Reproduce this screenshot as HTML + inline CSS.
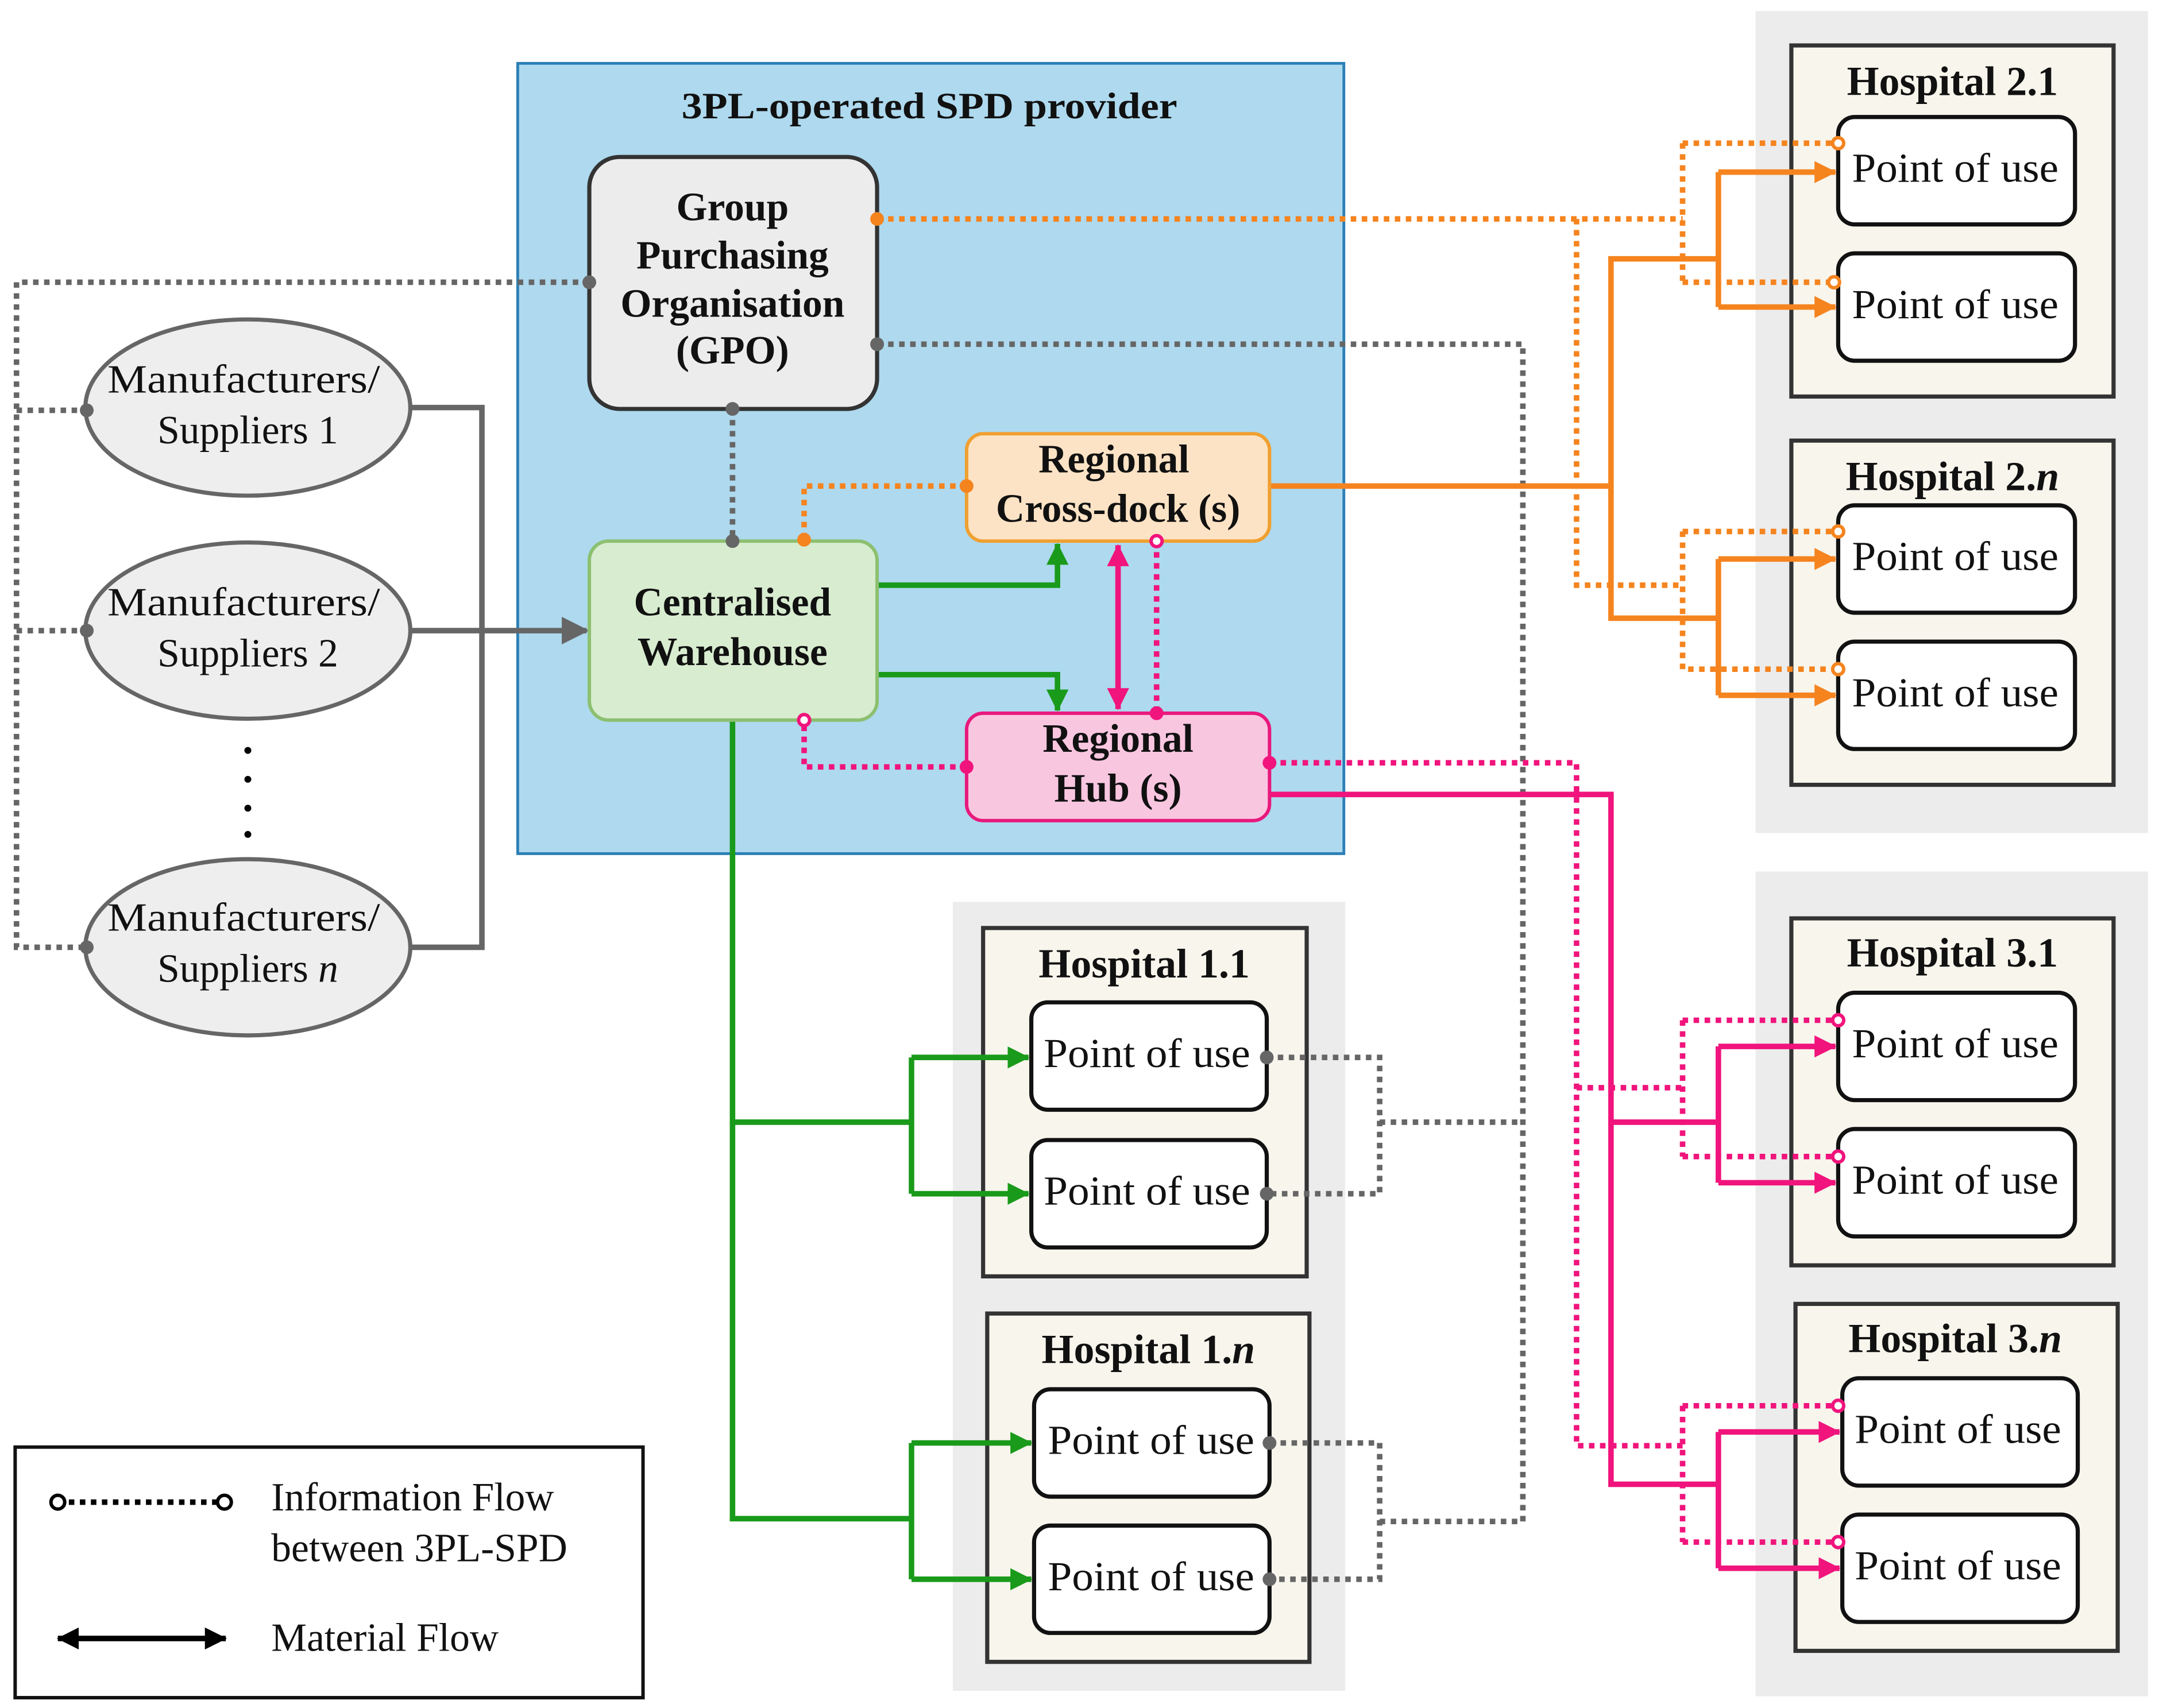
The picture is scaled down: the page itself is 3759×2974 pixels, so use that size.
<!DOCTYPE html>
<html><head><meta charset="utf-8"><style>
html,body{margin:0;padding:0;background:#fff;}
svg{display:block;}
text{font-family:"Liberation Serif",serif;fill:#111;}
.b{font-weight:bold;}
</style></head><body>
<svg width="3759" height="2974" viewBox="0 0 1568 1240.5" preserveAspectRatio="none" xmlns="http://www.w3.org/2000/svg">
<defs>
<marker id="ag" markerWidth="5" markerHeight="5" refX="4.5" refY="2.5" orient="auto" markerUnits="strokeWidth"><path d="M0,0 L5,2.5 L0,5 z" fill="#666"/></marker>
<marker id="ao" markerWidth="4" markerHeight="4" refX="3.8" refY="2" orient="auto" markerUnits="strokeWidth"><path d="M0,0 L4,2 L0,4 z" fill="#f5841f"/></marker>
<marker id="agr" markerWidth="4" markerHeight="4" refX="3.8" refY="2" orient="auto" markerUnits="strokeWidth"><path d="M0,0 L4,2 L0,4 z" fill="#1a9a1a"/></marker>
<marker id="ap" markerWidth="4" markerHeight="4" refX="3.8" refY="2" orient="auto" markerUnits="strokeWidth"><path d="M0,0 L4,2 L0,4 z" fill="#f0147c"/></marker>
<marker id="apb" markerWidth="4" markerHeight="4" refX="3.8" refY="2" orient="auto-start-reverse" markerUnits="strokeWidth"><path d="M0,0 L4,2 L0,4 z" fill="#f0147c"/></marker>
<marker id="ak" markerWidth="4" markerHeight="4" refX="3.8" refY="2" orient="auto-start-reverse" markerUnits="strokeWidth"><path d="M0,0 L4,2 L0,4 z" fill="#000"/></marker>
</defs>

<!-- gray panels -->
<rect x="1275" y="8" width="285" height="597" fill="#ececec"/>
<rect x="1275" y="633" width="285" height="599" fill="#ececec"/>
<rect x="692" y="655" width="285" height="573" fill="#ececec"/>

<!-- blue provider -->
<rect x="376" y="46" width="600" height="574" fill="#aed9ee" stroke="#2a7fb5" stroke-width="2"/>
<text x="675" y="86" font-size="27" class="b" text-anchor="middle" textLength="360" lengthAdjust="spacingAndGlyphs">3PL-operated SPD provider</text>

<!-- hospital frames -->
<g fill="#f7f5ec" stroke="#333" stroke-width="3">
<rect x="1301" y="33" width="234" height="255"/>
<rect x="1301" y="320" width="234" height="250"/>
<rect x="1301" y="667" width="234" height="252"/>
<rect x="1304" y="947" width="234" height="252"/>
<rect x="714" y="674" width="235" height="253"/>
<rect x="717" y="954" width="234" height="253"/>
</g>

<!-- lines: gray -->
<g fill="none" stroke="#666" stroke-width="4" stroke-dasharray="4,4">
<path d="M428,205 H12 V688 H63"/>
<path d="M12,298 H63 M12,458 H63"/>
<path d="M532,297 V393"/>
<path d="M637,250 H1106 V1105 H1002"/>
<path d="M1002,815 H1106"/>
<path d="M920,768 H1002 V867 H920"/>
<path d="M922,1048 H1002 V1147 H922"/>
</g>
<g fill="none" stroke="#666" stroke-width="4">
<path d="M297,296 H350 V688 H297"/>
<path d="M297,458 H426" marker-end="url(#ag)"/>
</g>
<!-- orange -->
<g fill="none" stroke="#f5841f" stroke-width="4" stroke-dasharray="4,4">
<path d="M637,159 H1222"/>
<path d="M1222,104 V205 M1222,104 H1335 M1222,205 H1332"/>
<path d="M1145,159 V425 H1222 V486 H1335 M1222,386 H1335 M1222,386 V425"/>
<path d="M702,353 H584 V392"/>
</g>
<g fill="none" stroke="#f5841f" stroke-width="4">
<path d="M922,353 H1170 V449 H1248 M1170,353 V188 H1248"/>
<path d="M1248,125 V223"/>
<path d="M1248,125 H1333" marker-end="url(#ao)"/>
<path d="M1248,223 H1333" marker-end="url(#ao)"/>
<path d="M1248,406 V505"/>
<path d="M1248,406 H1333" marker-end="url(#ao)"/>
<path d="M1248,505 H1333" marker-end="url(#ao)"/>
</g>
<!-- green -->
<g fill="none" stroke="#1a9a1a" stroke-width="4">
<path d="M637,425 H768 V395" marker-end="url(#agr)"/>
<path d="M637,490 H768 V516" marker-end="url(#agr)"/>
<path d="M532,523 V1103 H662 M532,815 H662"/>
<path d="M662,768 V867 M662,1048 V1147"/>
<path d="M662,768 H747" marker-end="url(#agr)"/>
<path d="M662,867 H747" marker-end="url(#agr)"/>
<path d="M662,1048 H749" marker-end="url(#agr)"/>
<path d="M662,1147 H749" marker-end="url(#agr)"/>
</g>
<!-- pink -->
<g fill="none" stroke="#f0147c" stroke-width="4" stroke-dasharray="4,4">
<path d="M840,393 V518"/>
<path d="M702,557 H584 V523"/>
<path d="M922,554 H1145 V1050 H1222 M1145,790 H1222"/>
<path d="M1222,741 V840 M1222,741 H1335 M1222,840 H1335"/>
<path d="M1222,1021 V1120 M1222,1021 H1335 M1222,1120 H1335"/>
</g>
<g fill="none" stroke="#f0147c" stroke-width="4">
<path d="M812,396 V515" marker-start="url(#apb)" marker-end="url(#apb)"/>
<path d="M922,577 H1170 V1078 H1248 M1170,815 H1248"/>
<path d="M1248,760 V859 M1248,1040 V1139"/>
<path d="M1248,760 H1333" marker-end="url(#ap)"/>
<path d="M1248,859 H1333" marker-end="url(#ap)"/>
<path d="M1248,1040 H1336" marker-end="url(#ap)"/>
<path d="M1248,1139 H1336" marker-end="url(#ap)"/>
</g>

<!-- nodes -->
<rect x="428" y="114" width="209" height="183" rx="22" fill="#ececec" stroke="#333" stroke-width="3"/>
<g font-size="29" class="b" text-anchor="middle">
<text x="532" y="160">Group</text><text x="532" y="195">Purchasing</text><text x="532" y="230">Organisation</text><text x="532" y="264">(GPO)</text>
</g>
<rect x="702" y="315" width="220" height="78" rx="12" fill="#fde3c5" stroke="#f0a030" stroke-width="2.5"/>
<g font-size="29" class="b" text-anchor="middle"><text x="809" y="343">Regional</text><text x="812" y="379">Cross-dock (s)</text></g>
<rect x="428" y="393" width="209" height="130" rx="14" fill="#d8ecd0" stroke="#8cc070" stroke-width="2.5"/>
<g font-size="29" class="b" text-anchor="middle"><text x="532" y="447">Centralised</text><text x="532" y="483">Warehouse</text></g>
<rect x="702" y="518" width="220" height="78" rx="12" fill="#f9c6e0" stroke="#e8197d" stroke-width="2.5"/>
<g font-size="29" class="b" text-anchor="middle"><text x="812" y="546">Regional</text><text x="812" y="582">Hub (s)</text></g>

<g fill="#eee" stroke="#666" stroke-width="3">
<ellipse cx="180" cy="296" rx="118" ry="64"/>
<ellipse cx="180" cy="458" rx="118" ry="64"/>
<ellipse cx="180" cy="688" rx="118" ry="64"/>
</g>
<g font-size="29" text-anchor="middle" fill="#333">
<text x="177" y="285" textLength="198" lengthAdjust="spacingAndGlyphs">Manufacturers/</text><text x="180" y="322">Suppliers 1</text>
<text x="177" y="447" textLength="198" lengthAdjust="spacingAndGlyphs">Manufacturers/</text><text x="180" y="484">Suppliers 2</text>
<text x="177" y="676" textLength="198" lengthAdjust="spacingAndGlyphs">Manufacturers/</text><text x="180" y="713">Suppliers <tspan font-style="italic">n</tspan></text>
</g>
<g fill="#000"><circle cx="180" cy="545" r="2.5"/><circle cx="180" cy="566" r="2.5"/><circle cx="180" cy="587" r="2.5"/><circle cx="180" cy="606" r="2.5"/></g>

<!-- POU boxes -->
<g fill="#fff" stroke="#111" stroke-width="3">
<rect x="1335" y="85" width="172" height="78" rx="12"/>
<rect x="1335" y="184" width="172" height="78" rx="12"/>
<rect x="1335" y="367" width="172" height="78" rx="12"/>
<rect x="1335" y="466" width="172" height="78" rx="12"/>
<rect x="1335" y="721" width="172" height="78" rx="12"/>
<rect x="1335" y="820" width="172" height="78" rx="12"/>
<rect x="1338" y="1001" width="171" height="78" rx="12"/>
<rect x="1338" y="1100" width="171" height="78" rx="12"/>
<rect x="749" y="728" width="171" height="78" rx="12"/>
<rect x="749" y="828" width="171" height="78" rx="12"/>
<rect x="751" y="1009" width="171" height="78" rx="12"/>
<rect x="751" y="1108" width="171" height="78" rx="12"/>
</g>
<g font-size="30" class="b" text-anchor="middle">
<text x="1418" y="69">Hospital 2.1</text>
<text x="1418" y="356">Hospital 2.<tspan font-style="italic">n</tspan></text>
<text x="1418" y="702">Hospital 3.1</text>
<text x="1420" y="982">Hospital 3.<tspan font-style="italic">n</tspan></text>
<text x="831" y="710">Hospital 1.1</text>
<text x="834" y="990">Hospital 1.<tspan font-style="italic">n</tspan></text>
</g>
<g font-size="30" text-anchor="middle">
<text x="1420" y="132" textLength="150" lengthAdjust="spacingAndGlyphs">Point of use</text>
<text x="1420" y="231" textLength="150" lengthAdjust="spacingAndGlyphs">Point of use</text>
<text x="1420" y="414" textLength="150" lengthAdjust="spacingAndGlyphs">Point of use</text>
<text x="1420" y="513" textLength="150" lengthAdjust="spacingAndGlyphs">Point of use</text>
<text x="1420" y="768" textLength="150" lengthAdjust="spacingAndGlyphs">Point of use</text>
<text x="1420" y="867" textLength="150" lengthAdjust="spacingAndGlyphs">Point of use</text>
<text x="1422" y="1048" textLength="150" lengthAdjust="spacingAndGlyphs">Point of use</text>
<text x="1422" y="1147" textLength="150" lengthAdjust="spacingAndGlyphs">Point of use</text>
<text x="833" y="775" textLength="150" lengthAdjust="spacingAndGlyphs">Point of use</text>
<text x="833" y="875" textLength="150" lengthAdjust="spacingAndGlyphs">Point of use</text>
<text x="836" y="1056" textLength="150" lengthAdjust="spacingAndGlyphs">Point of use</text>
<text x="836" y="1155" textLength="150" lengthAdjust="spacingAndGlyphs">Point of use</text>
</g>

<!-- dots -->
<g fill="#666">
<circle cx="428" cy="205" r="5"/><circle cx="63" cy="298" r="5"/><circle cx="63" cy="458" r="5"/><circle cx="63" cy="688" r="5"/>
<circle cx="532" cy="297" r="5"/><circle cx="532" cy="393" r="5"/><circle cx="637" cy="250" r="5"/>
<circle cx="920" cy="768" r="5"/><circle cx="920" cy="867" r="5"/><circle cx="922" cy="1048" r="5"/><circle cx="922" cy="1147" r="5"/>
</g>
<g fill="#f5841f"><circle cx="637" cy="159" r="5"/><circle cx="702" cy="353" r="5"/><circle cx="584" cy="392" r="5"/></g>
<g fill="#fff" stroke="#f5841f" stroke-width="2.5"><circle cx="1335" cy="104" r="4"/><circle cx="1332" cy="205" r="4"/><circle cx="1335" cy="386" r="4"/><circle cx="1335" cy="486" r="4"/></g>
<g fill="#f0147c"><circle cx="840" cy="518" r="5"/><circle cx="702" cy="557" r="5"/><circle cx="922" cy="554" r="5"/></g>
<g fill="#fff" stroke="#f0147c" stroke-width="2.5"><circle cx="840" cy="393" r="4"/><circle cx="584" cy="523" r="4"/><circle cx="1335" cy="741" r="4"/><circle cx="1335" cy="840" r="4"/><circle cx="1335" cy="1021" r="4"/><circle cx="1335" cy="1120" r="4"/></g>

<!-- legend -->
<rect x="11" y="1051" width="456" height="182" fill="#fff" stroke="#111" stroke-width="2.5"/>
<line x1="42" y1="1091" x2="163" y2="1091" stroke="#000" stroke-width="4" stroke-dasharray="4,4"/>
<circle cx="42" cy="1091" r="5" fill="#fff" stroke="#000" stroke-width="2.5"/>
<circle cx="163" cy="1091" r="5" fill="#fff" stroke="#000" stroke-width="2.5"/>
<line x1="42" y1="1190" x2="164" y2="1190" stroke="#000" stroke-width="4" marker-start="url(#ak)" marker-end="url(#ak)"/>
<g font-size="29"><text x="197" y="1097">Information Flow</text><text x="197" y="1134">between 3PL-SPD</text><text x="197" y="1199">Material Flow</text></g>
</svg>
</body></html>
